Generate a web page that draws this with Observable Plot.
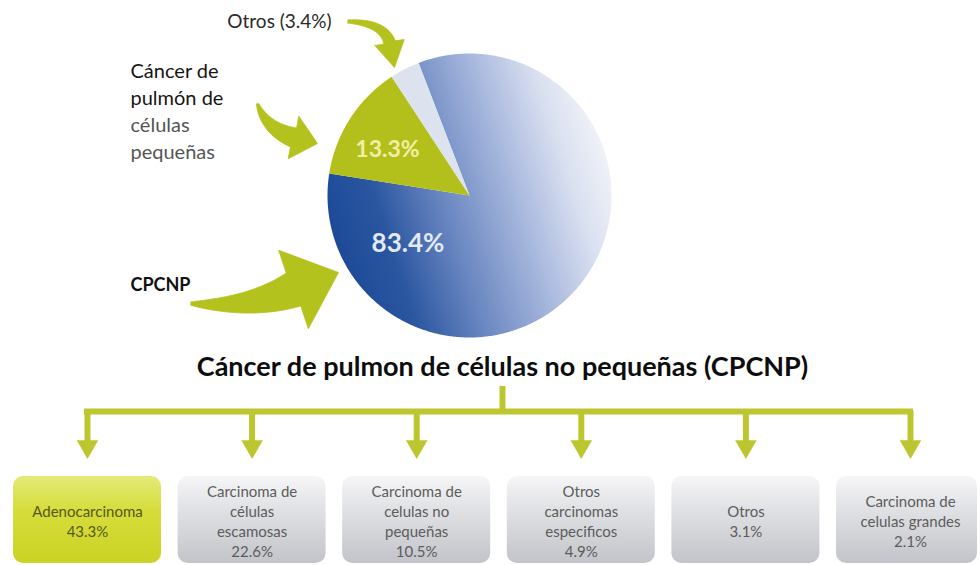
<!DOCTYPE html>
<html>
<head>
<meta charset="utf-8">
<script src="https://cdn.jsdelivr.net/npm/d3@7"></script>
<script src="https://cdn.jsdelivr.net/npm/@observablehq/plot@0.6"></script>
<style>
  html, body { margin: 0; padding: 0; background: #ffffff; }
  #chart svg { display: block; }
</style>
</head>
<body>
<div id="chart"></div>
<script>
// ---------------- DATA ----------------
const pieCategories = ["CPCNP", "Cáncer de\npulmón de\ncélulas\npequeñas", "Otros"];
const pieValues = [83.4, 13.3, 3.4];
const chartTitle = "Cáncer de pulmon de células no pequeñas (CPCNP)";
const subtypeNames = [
  "Adenocarcinoma",
  "Carcinoma de\ncélulas\nescamosas",
  "Carcinoma de\ncelulas no\npequeñas",
  "Otros\ncarcinomas\nespecificos",
  "Otros",
  "Carcinoma de\ncelulas grandes"
];
const subtypeValues = [43.3, 22.6, 10.5, 4.9, 3.1, 2.1];

// ---------------- LAYOUT / STYLE ----------------
const FONT = "Lato, 'Open Sans', sans-serif";
const L = {
  pie: {cx: 469, cy: 195, r: 142, startDeg: -21},
  sliceFills: ["url(#blueGrad)", "#b3c01b", "#dce2ee"],
  pctLabel: [ {deg: 232, f: 0.55, size: 26, color: "#e3e9f5"},
              {deg: 299, f: 0.66, size: 23, color: "#f3eea6"},
              null ],
  leftLabel: {x: 130, y0: 71, dy: 27, size: 20, colors: ["#151515", "#151515", "#555555", "#555555"]},
  cpcnpLabel: {x: 130, y: 285, size: 18},
  otrosLabel: {x: 279, y: 21, size: 19},
  arrows: [
    {p0: [347, 21], c: [383, 22], p1: [389, 42], tip: [394, 67], w0: 3, w1: 12, hw: 30},
    {p0: [257, 103], c: [265, 128], p1: [293, 137], tip: [317, 143], w0: 2, w1: 20, hw: 44},
    {p0: [190, 303], c: [250, 308], p1: [293, 289], tip: [338, 272], w0: 3, w1: 36, hw: 84}
  ],
  arrowColor: "#b4c21e",
  title: {x: 502, y: 367, size: 27},
  tree: {x0: 87, step: 164.6, stemX: 502, stemTop: 386, barY: 411, dropEnd: 442, headY: 446, color: "#bcc72f", width: 6},
  box: {half: 74, maxX: 977, y1: 476, y2: 563, textY: 520, size: 15}
};

// ---------------- DERIVED GEOMETRY ----------------
const a0 = L.pie.startDeg * Math.PI / 180;
const arcs = d3.pie().sort(null).value(d => d)
  .startAngle(a0).endAngle(a0 + 2 * Math.PI)(pieValues);

const polar = (deg, rad) => ({
  x: L.pie.cx + rad * Math.sin(deg * Math.PI / 180),
  y: L.pie.cy - rad * Math.cos(deg * Math.PI / 180)
});

const slicePolys = arcs.map(arc => {
  const pts = [{x: L.pie.cx, y: L.pie.cy}];
  const n = Math.max(4, Math.ceil((arc.endAngle - arc.startAngle) / 0.01));
  for (let k = 0; k <= n; k++) {
    const a = arc.startAngle + (arc.endAngle - arc.startAngle) * k / n;
    pts.push({x: L.pie.cx + L.pie.r * Math.sin(a), y: L.pie.cy - L.pie.r * Math.cos(a)});
  }
  return pts;
});

function arrowPoly(a) {
  const [x0, y0] = a.p0, [cx, cy] = a.c, [x1, y1] = a.p1, [tx, ty] = a.tip;
  const n = 40, left = [], right = [];
  for (let k = 0; k <= n; k++) {
    const t = k / n;
    const x = (1 - t) ** 2 * x0 + 2 * (1 - t) * t * cx + t * t * x1;
    const y = (1 - t) ** 2 * y0 + 2 * (1 - t) * t * cy + t * t * y1;
    const dx = 2 * (1 - t) * (cx - x0) + 2 * t * (x1 - cx);
    const dy = 2 * (1 - t) * (cy - y0) + 2 * t * (y1 - cy);
    const len = Math.hypot(dx, dy) || 1;
    const nx = -dy / len, ny = dx / len;
    const w = (a.w0 + (a.w1 - a.w0) * Math.pow(t, 0.85)) / 2;
    left.push({x: x + nx * w, y: y + ny * w});
    right.push({x: x - nx * w, y: y - ny * w});
  }
  const hdx = tx - x1, hdy = ty - y1, hl = Math.hypot(hdx, hdy);
  const hnx = -hdy / hl, hny = hdx / hl, hw = a.hw / 2;
  return [...left,
    {x: x1 + hnx * hw, y: y1 + hny * hw},
    {x: tx, y: ty},
    {x: x1 - hnx * hw, y: y1 - hny * hw},
    ...right.reverse()];
}

const centers = subtypeValues.map((_, i) => L.tree.x0 + i * L.tree.step);
const boxIdx = subtypeValues.map((_, i) => i);
const boxText = i => `${subtypeNames[i]}\n${subtypeValues[i].toFixed(1)}%`;

const leftLines = pieCategories[1].split("\n");
const pctTexts = pieValues.map(v => `${v.toFixed(1)}%`);
const pctIdx = [0, 1];

// ---------------- MARKS ----------------
const marks = [];

slicePolys.forEach((pts, i) => {
  marks.push(Plot.line(pts, {x: "x", y: "y", fill: L.sliceFills[i], stroke: "none", curve: "linear"}));
});

marks.push(Plot.text(pctIdx, {
  x: i => polar(L.pctLabel[i].deg, L.pie.r * L.pctLabel[i].f).x,
  y: i => polar(L.pctLabel[i].deg, L.pie.r * L.pctLabel[i].f).y,
  text: i => pctTexts[i],
  fill: i => L.pctLabel[i].color,
  fontSize: i => L.pctLabel[i].size,
  fontWeight: "bold",
  fontFamily: FONT
}));

L.arrows.forEach(a => {
  marks.push(Plot.line(arrowPoly(a), {x: "x", y: "y", fill: L.arrowColor, stroke: L.arrowColor, strokeWidth: 0.8, curve: "linear"}));
});

marks.push(Plot.text([`${pieCategories[2]} (${pieValues[2]}%)`], {
  x: () => L.otrosLabel.x, y: () => L.otrosLabel.y, text: d => d,
  fontSize: L.otrosLabel.size, fill: "#2a2a2a", fontFamily: FONT
}));

marks.push(Plot.text(leftLines, {
  x: () => L.leftLabel.x, y: (d, i) => L.leftLabel.y0 + i * L.leftLabel.dy,
  text: d => d, textAnchor: "start",
  fill: (d, i) => L.leftLabel.colors[i],
  fontSize: L.leftLabel.size, fontFamily: FONT
}));

marks.push(Plot.text([pieCategories[0]], {
  x: () => L.cpcnpLabel.x, y: () => L.cpcnpLabel.y, text: d => d,
  textAnchor: "start", fontWeight: "bold", fontSize: L.cpcnpLabel.size,
  fill: "#111", fontFamily: FONT
}));

marks.push(Plot.text([chartTitle], {
  x: () => L.title.x, y: () => L.title.y, text: d => d,
  fontWeight: "bold", fontSize: L.title.size, fill: "#0d0d0d", fontFamily: FONT
}));

marks.push(Plot.ruleX([L.tree.stemX], {x: d => d, y1: () => L.tree.stemTop, y2: () => L.tree.barY, stroke: L.tree.color, strokeWidth: L.tree.width}));
marks.push(Plot.ruleY([L.tree.barY], {y: d => d, x1: () => centers[0] - L.tree.width / 2, x2: () => centers[centers.length - 1] + L.tree.width / 2, stroke: L.tree.color, strokeWidth: L.tree.width}));
marks.push(Plot.ruleX(centers, {x: d => d, y1: () => L.tree.barY, y2: () => L.tree.dropEnd, stroke: L.tree.color, strokeWidth: L.tree.width}));
marks.push(Plot.dot(centers, {x: d => d, y: () => L.tree.headY, symbol: "triangle", r: 8, rotate: 180, fill: L.tree.color, stroke: "none"}));

marks.push(Plot.rect(boxIdx.filter(i => i === 0), {
  x1: i => centers[i] - L.box.half, x2: i => Math.min(centers[i] + L.box.half, L.box.maxX),
  y1: () => L.box.y1, y2: () => L.box.y2, rx: 10, fill: "url(#greenBox)"
}));
marks.push(Plot.rect(boxIdx.filter(i => i > 0), {
  x1: i => centers[i] - L.box.half, x2: i => Math.min(centers[i] + L.box.half, L.box.maxX),
  y1: () => L.box.y1, y2: () => L.box.y2, rx: 10, fill: "url(#greyBox)"
}));
marks.push(Plot.text(boxIdx, {
  x: i => centers[i], y: () => L.box.textY, text: boxText,
  lineHeight: 1.35, fontSize: L.box.size, fontFamily: FONT,
  fill: i => i === 0 ? "#55581f" : "#5c5c5c"
}));

const chart = Plot.plot({
  width: 980,
  height: 565,
  margin: 0,
  x: {domain: [0, 980], range: [0, 980], axis: null},
  y: {domain: [0, 565], range: [0, 565], axis: null},
  color: {type: "identity"},
  style: {fontFamily: FONT, background: "#ffffff", overflow: "visible"},
  marks
});

const defs = d3.select(chart).insert("defs", ":first-child");
function lin(id, x1, y1, x2, y2, stops, units) {
  const g = defs.append("linearGradient").attr("id", id)
    .attr("x1", x1).attr("y1", y1).attr("x2", x2).attr("y2", y2);
  if (units) g.attr("gradientUnits", units);
  stops.forEach(([o, c]) => g.append("stop").attr("offset", o).attr("stop-color", c));
}
lin("blueGrad", 330, 255, 612, 165, [
  [0, "#1b4896"], [0.2, "#2a56a0"], [0.42, "#6a87c1"], [0.68, "#aebde0"], [0.85, "#d9e0f0"], [1, "#f1f3f8"]
], "userSpaceOnUse");
lin("greyBox", 0, 0, 0, 1, [
  [0, "#f6f6f8"], [0.35, "#e2e3e6"], [1, "#c2c4c9"]
]);
lin("greenBox", 0, 0, 0, 1, [
  [0, "#e4ea78"], [0.4, "#d6dd3a"], [1, "#cbd325"]
]);

document.getElementById("chart").appendChild(chart);
</script>
</body>
</html>
